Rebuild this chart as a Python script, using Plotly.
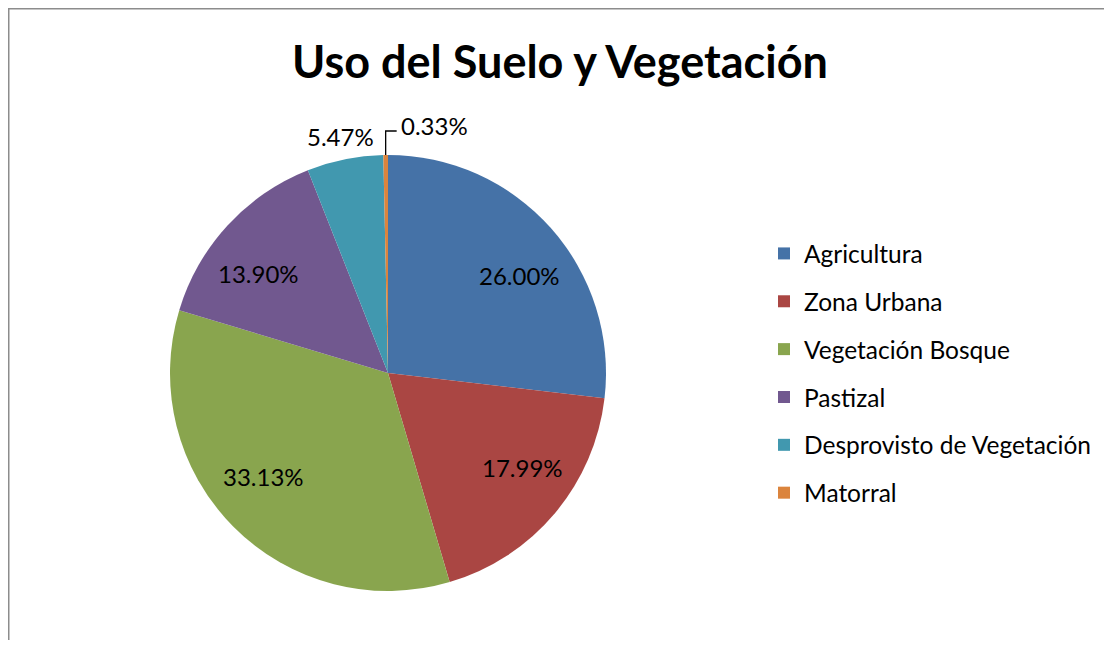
import math
import plotly.graph_objects as go

categories = ["Agricultura", "Zona Urbana", "Vegetación Bosque", "Pastizal",
              "Desprovisto de Vegetación", "Matorral"]
values = [26.00, 17.99, 33.13, 13.90, 5.47, 0.33]
colors = ["#4572A7", "#AA4643", "#89A54E", "#71588F", "#4198AF", "#DB843D"]
label_outside = [False, False, False, False, True, True]

# figure size (page body has an 8px margin)
W, H = 1096, 632
FONT = "Lato"
CX, CY, R = 380, 365, 218  # pie centre / radius in figure pixels


def px(x):
    return x / W


def py(y):
    return 1 - y / H


fig = go.Figure()
fig.add_trace(go.Pie(
    labels=categories,
    values=values,
    sort=False,
    direction="clockwise",
    rotation=0,
    marker=dict(colors=colors, line=dict(width=0)),
    textinfo="none",
    showlegend=False,
    hoverinfo="label+value",
    domain=dict(x=[px(CX - R), px(CX + R)], y=[py(CY + R), py(CY - R)]),
))

# data labels, positioned from each slice's mid angle
total = sum(values)
annotations = []
shapes = []
cum = 0.0
for cat, v, outside in zip(categories, values, label_outside):
    frac = v / total
    mid = (cum + frac / 2) * 2 * math.pi
    cum += frac
    s, c = math.sin(mid), math.cos(mid)
    txt = f"{v:.2f}%"
    if not outside:
        x, y = CX + 0.807 * R * s, CY - 0.674 * R * c
        annotations.append(dict(x=px(x), y=py(y), xref="paper", yref="paper", text=txt,
                                showarrow=False, xanchor="center", yanchor="middle",
                                font=dict(family=FONT, size=24, color="black")))
    elif v > 1:
        x, y = CX + 1.105 * R * s, CY - 1.105 * R * c
        annotations.append(dict(x=px(x), y=py(y), xref="paper", yref="paper", text=txt,
                                showarrow=False, xanchor="center", yanchor="middle",
                                font=dict(family=FONT, size=24, color="black")))
    else:
        ex, ey = CX + R * s, CY - R * c
        elbow_y = ey - 24
        end_x = ex + 11
        shapes.append(dict(type="path", xref="paper", yref="paper",
                           path=f"M {px(ex)},{py(ey)} L {px(ex)},{py(elbow_y)} L {px(end_x)},{py(elbow_y)}",
                           line=dict(color="black", width=1.3)))
        annotations.append(dict(x=px(end_x + 2), y=py(elbow_y - 6), xref="paper", yref="paper", text=txt,
                                showarrow=False, xanchor="left", yanchor="middle",
                                font=dict(family=FONT, size=24, color="black")))

# legend entries (one group per category to get Excel-like spacing)
for cat, col in zip(categories, colors):
    fig.add_trace(go.Scatter(
        x=[None], y=[None], mode="markers", name=cat, legendgroup=cat,
        marker=dict(symbol="square", size=12, color=col),
        showlegend=True, hoverinfo="skip",
    ))

# chart border (top and left edges visible)
shapes += [
    dict(type="line", xref="paper", yref="paper", x0=0, x1=1, y0=py(0.75), y1=py(0.75),
         line=dict(color="#8c8c8c", width=1.5)),
    dict(type="line", xref="paper", yref="paper", x0=px(0.75), x1=px(0.75), y0=0, y1=1,
         line=dict(color="#8c8c8c", width=1.5)),
]

fig.update_layout(
    width=W, height=H,
    margin=dict(l=0, r=0, t=0, b=0),
    paper_bgcolor="white", plot_bgcolor="white",
    title=dict(text="<b>Uso del Suelo y Vegetación</b>", x=px(552), xanchor="center",
               y=py(54), yanchor="middle",
               font=dict(family=FONT, size=45, color="black")),
    xaxis=dict(visible=False), yaxis=dict(visible=False),
    legend=dict(x=px(756), xanchor="left", y=py(223), yanchor="top",
                font=dict(family=FONT, size=24.5, color="black"),
                tracegroupgap=13, itemwidth=30, bgcolor="rgba(0,0,0,0)"),
    annotations=annotations,
    shapes=shapes,
)

fig.write_html("out.html")
